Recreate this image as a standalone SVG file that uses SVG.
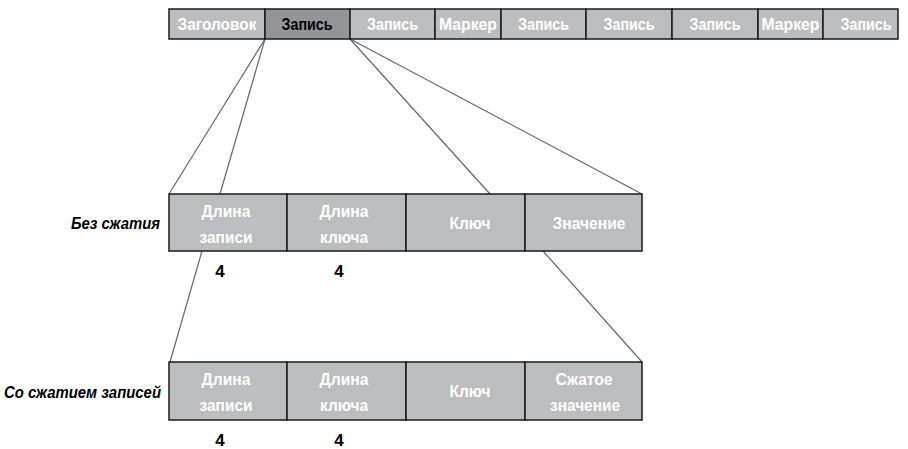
<svg xmlns="http://www.w3.org/2000/svg" width="908" height="449" viewBox="0 0 908 449">
<style>
.cell{fill:#bcbdbf;stroke:#1a1a1a;stroke-width:1.5}
.dark{fill:#939598}
.t{font-family:"Liberation Sans",Arial,sans-serif;font-weight:bold;font-size:17px;fill:#ffffff;text-anchor:middle}
.tb{fill:#000000}
.lab{font-family:"Liberation Sans",Arial,sans-serif;font-weight:bold;font-style:italic;font-size:17px;fill:#000;text-anchor:end}
.num{font-family:"Liberation Sans",Arial,sans-serif;font-weight:bold;font-size:17px;fill:#000;text-anchor:middle}
.c{stroke:#666666;stroke-width:1.2;fill:none}
</style>
<g id="connectors">
<line class="c" x1="265" y1="39" x2="169" y2="194"/>
<line class="c" x1="265" y1="39" x2="220" y2="194"/>
<line class="c" x1="350" y1="39" x2="490" y2="194"/>
<line class="c" x1="350" y1="39" x2="642" y2="194"/>
<line class="c" x1="202" y1="251" x2="170" y2="362"/>
<line class="c" x1="543" y1="251" x2="642" y2="362"/>
</g>
<g id="top-bar">
<g id="top-header"><rect class="cell" x="169" y="9" width="96" height="30"/><text class="t" x="217" y="30" textLength="79" lengthAdjust="spacingAndGlyphs">Заголовок</text></g>
<g id="top-record-1"><rect class="cell dark" x="265" y="9" width="85" height="30"/><text class="t tb" x="307" y="30" textLength="51" lengthAdjust="spacingAndGlyphs">Запись</text></g>
<g id="top-record-2"><rect class="cell" x="350" y="9" width="85" height="30"/><text class="t" x="392.5" y="30" textLength="51" lengthAdjust="spacingAndGlyphs">Запись</text></g>
<g id="top-marker-1"><rect class="cell" x="435" y="9" width="66" height="30"/><text class="t" x="468" y="30" textLength="58" lengthAdjust="spacingAndGlyphs">Маркер</text></g>
<g id="top-record-3"><rect class="cell" x="501" y="9" width="85" height="30"/><text class="t" x="543.5" y="30" textLength="51" lengthAdjust="spacingAndGlyphs">Запись</text></g>
<g id="top-record-4"><rect class="cell" x="586" y="9" width="86" height="30"/><text class="t" x="629" y="30" textLength="51" lengthAdjust="spacingAndGlyphs">Запись</text></g>
<g id="top-record-5"><rect class="cell" x="672" y="9" width="86" height="30"/><text class="t" x="715" y="30" textLength="51" lengthAdjust="spacingAndGlyphs">Запись</text></g>
<g id="top-marker-2"><rect class="cell" x="758" y="9" width="65" height="30"/><text class="t" x="790.5" y="30" textLength="58" lengthAdjust="spacingAndGlyphs">Маркер</text></g>
<g id="top-record-6"><rect class="cell" x="823" y="9" width="75" height="30"/><text class="t" x="866" y="30" textLength="51" lengthAdjust="spacingAndGlyphs">Запись</text></g>
</g>
<g id="uncompressed">
<text class="lab" x="160" y="229" textLength="89" lengthAdjust="spacingAndGlyphs">Без сжатия</text>
<g id="u-reclen"><rect class="cell" x="169" y="194" width="118" height="57"/><text class="t" x="226" y="217" textLength="49" lengthAdjust="spacingAndGlyphs">Длина</text><text class="t" x="226" y="243" textLength="53" lengthAdjust="spacingAndGlyphs">записи</text></g>
<g id="u-keylen"><rect class="cell" x="287" y="194" width="119" height="57"/><text class="t" x="344" y="217" textLength="49" lengthAdjust="spacingAndGlyphs">Длина</text><text class="t" x="344" y="243" textLength="48" lengthAdjust="spacingAndGlyphs">ключа</text></g>
<g id="u-key"><rect class="cell" x="406" y="194" width="119" height="57"/><text class="t" x="470" y="229" textLength="41" lengthAdjust="spacingAndGlyphs">Ключ</text></g>
<g id="u-value"><rect class="cell" x="525" y="194" width="117" height="57"/><text class="t" x="589" y="229" textLength="73" lengthAdjust="spacingAndGlyphs">Значение</text></g>
<text class="num" x="220" y="277">4</text>
<text class="num" x="339" y="277">4</text>
</g>
<g id="compressed">
<text class="lab" x="161" y="398" textLength="157" lengthAdjust="spacingAndGlyphs">Со сжатием записей</text>
<g id="c-reclen"><rect class="cell" x="169" y="362" width="118" height="58"/><text class="t" x="226" y="385" textLength="49" lengthAdjust="spacingAndGlyphs">Длина</text><text class="t" x="226" y="411" textLength="53" lengthAdjust="spacingAndGlyphs">записи</text></g>
<g id="c-keylen"><rect class="cell" x="287" y="362" width="119" height="58"/><text class="t" x="344" y="385" textLength="49" lengthAdjust="spacingAndGlyphs">Длина</text><text class="t" x="344" y="411" textLength="48" lengthAdjust="spacingAndGlyphs">ключа</text></g>
<g id="c-key"><rect class="cell" x="406" y="362" width="119" height="58"/><text class="t" x="470" y="397" textLength="41" lengthAdjust="spacingAndGlyphs">Ключ</text></g>
<g id="c-value"><rect class="cell" x="525" y="362" width="117" height="58"/><text class="t" x="584" y="385" textLength="57" lengthAdjust="spacingAndGlyphs">Сжатое</text><text class="t" x="585" y="411" textLength="70" lengthAdjust="spacingAndGlyphs">значение</text></g>
<text class="num" x="220" y="446">4</text>
<text class="num" x="339" y="446">4</text>
</g>
</svg>
